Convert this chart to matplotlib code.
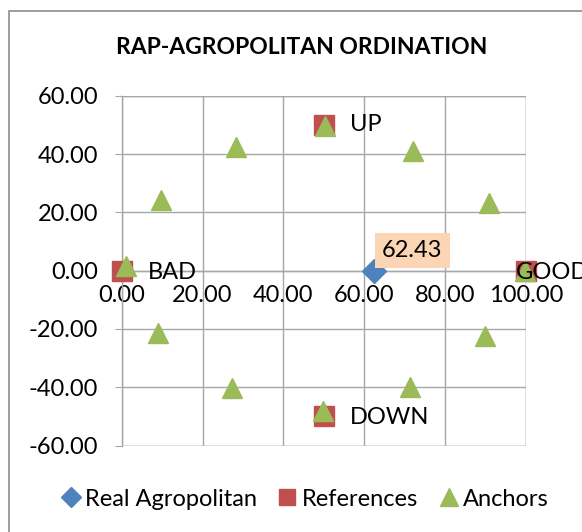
import matplotlib

matplotlib.use("Agg")
import matplotlib.pyplot as plt  # noqa: E402
from matplotlib.patches import Rectangle  # noqa: E402

plt.rcParams["font.family"] = ["Lato", "DejaVu Sans"]

# --- data ---
real_x = [62.43]
real_y = [0.0]

ref_x = [0.0, 100.0, 50.0, 50.0]
ref_y = [0.0, 0.0, 50.0, -50.0]
ref_labels = ["BAD", "GOOD", "UP", "DOWN"]

anchor_x = [1.0, 9.8, 28.3, 50.4, 72.1, 90.8, 99.8, 89.9, 71.4, 49.7, 27.4, 9.1]
anchor_y = [1.5, 24.2, 42.4, 49.6, 41.2, 23.2, 0.0, -22.4, -39.9, -48.0, -40.1, -21.5]

x_ticks = [0, 20, 40, 60, 80, 100]
y_ticks = [-60, -40, -20, 0, 20, 40, 60]

BLUE = "#4F81BD"
RED = "#C0504D"
GREEN = "#9BBB59"
GRID = "#A6A6A6"
FS = 17

fig = plt.figure(figsize=(5.82, 5.32), dpi=100)
ax = fig.add_axes([121.7 / 582, 1 - 445.6 / 532, (526 - 121.7) / 582, (445.6 - 95.7) / 532])

# outer chart frame (only left and top edges are inside the picture)
fig.patches.append(Rectangle((9 / 582, -0.2), 1.2, 1.2 - 11 / 532,
                             transform=fig.transFigure, fill=False,
                             edgecolor="#8C8C8C", lw=1.2, zorder=0))

ax.plot(real_x, real_y, ls="none", marker="D", ms=12, color=BLUE,
        label="Real Agropolitan", zorder=3, clip_on=False)
ax.plot(ref_x, ref_y, ls="none", marker="s", ms=14, color=RED,
        label="References", zorder=3, clip_on=False)
ax.plot(anchor_x, anchor_y, ls="none", marker="^", ms=15, color=GREEN,
        label="Anchors", zorder=4, clip_on=False)

# data labels
offsets = {"BAD": (26, -2), "GOOD": (-10, -2), "UP": (26, 0), "DOWN": (26, -1)}
for x, y, lab in zip(ref_x, ref_y, ref_labels):
    ax.annotate(lab, (x, y), xytext=offsets[lab], textcoords="offset pixels",
                ha="left", va="center", fontsize=FS, zorder=5,
                annotation_clip=False)
ax.annotate(f"{real_x[0]:.2f}", (real_x[0], real_y[0]), xytext=(8, 10),
            textcoords="offset pixels", ha="left", va="bottom", fontsize=FS,
            zorder=5, bbox=dict(boxstyle="square,pad=0.3", fc="#FCD5B5", ec="none"))

ax.set_xlim(0, 100)
ax.set_ylim(-60, 60)
ax.set_xticks(x_ticks)
ax.set_yticks(y_ticks)
ax.set_xticklabels([f"{v:.2f}" for v in x_ticks])
ax.set_yticklabels([f"{v:.2f}" for v in y_ticks])
ax.grid(True, color=GRID, lw=1.0)
ax.set_axisbelow(True)

for side in ("top", "right"):
    ax.spines[side].set_visible(False)
ax.spines["bottom"].set_position(("data", 0))
ax.spines["bottom"].set_color(GRID)
ax.spines["left"].set_color(GRID)
ax.spines["bottom"].set_linewidth(1.0)
ax.spines["left"].set_linewidth(1.0)
# border gridlines
ax.axhline(60, color=GRID, lw=1.0, zorder=1)
ax.axhline(-60, color=GRID, lw=1.0, zorder=1)
ax.axvline(100, color=GRID, lw=1.0, zorder=1)

ax.tick_params(axis="y", length=5, color=GRID, pad=12, labelsize=FS)
ax.tick_params(axis="x", length=4, color=GRID, pad=6, labelsize=FS)

fig.text(302 / 582, 1 - 48 / 532, "RAP-AGROPOLITAN ORDINATION", ha="center",
         va="center", fontsize=16.5, fontweight="bold")

fig.legend(loc="center", bbox_to_anchor=(306 / 582, 1 - 499 / 532), ncol=3,
           frameon=False, fontsize=FS, handlelength=0.6, handletextpad=0.3,
           columnspacing=1.0, markerscale=0.85, borderaxespad=0)

fig.savefig("out.png", dpi=100)
